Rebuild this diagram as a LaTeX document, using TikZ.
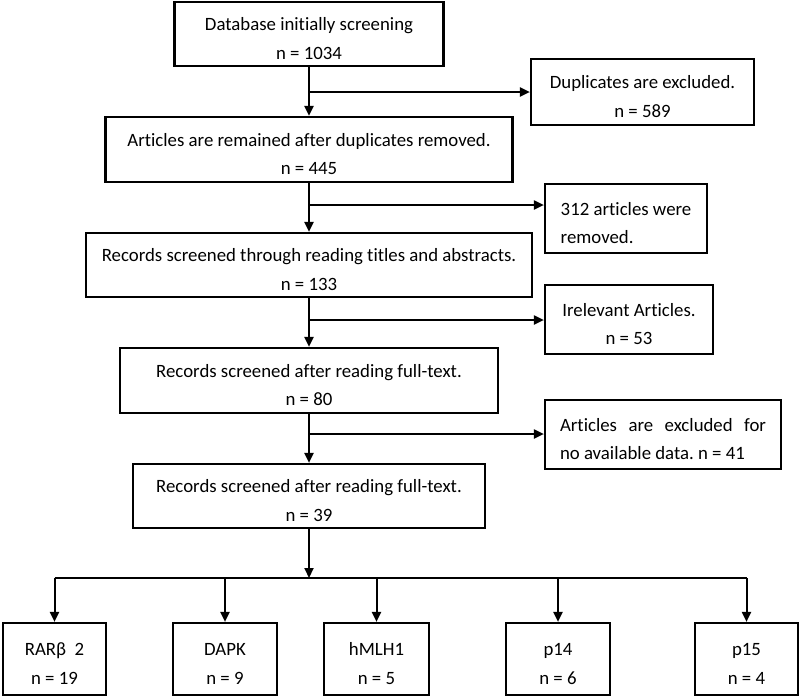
\documentclass[tikz,border=0pt]{standalone}
\usepackage{fontspec}
\setmainfont{Carlito}[Ligatures=NoCommon]
\frenchspacing
\usetikzlibrary{arrows.meta}
\newcommand\upstrut{\rule{0pt}{22pt}}
\begin{document}
\begin{tikzpicture}[x=1pt,y=-1pt,
 box/.style={draw, line width=2.2pt, align=center, inner sep=0pt, font=\fontsize{18.8}{28.5}\selectfont},
 arr/.style={line width=2pt, -{Triangle[length=10pt,width=9pt]}},
 ln/.style={line width=2pt}]
\useasboundingbox (0,0) rectangle (800,697);
% main column
\node[box, minimum width=269pt, minimum height=64pt] (b1) at (309,34) {\upstrut Database initially screening\\n = 1034};
\node[box, minimum width=407pt, minimum height=65pt] (b3) at (309,149.5) {\upstrut Articles are remained after duplicates removed.\\n = 445};
\node[box, minimum width=446pt, minimum height=64pt] (b5) at (309,265) {\upstrut Records screened through reading titles and abstracts.\\n = 133};
\node[box, minimum width=378pt, minimum height=65pt] (b7) at (309,380.5) {\upstrut Records screened after reading full-text.\\n = 80};
\node[box, minimum width=352pt, minimum height=64pt] (b9) at (309,496) {\upstrut Records screened after reading full-text.\\n = 39};
% side boxes
\node[box, minimum width=223pt, minimum height=66pt] (b2) at (642.5,92) {\upstrut Duplicates are excluded.\\n = 589};
\node[box, minimum width=162pt, minimum height=69pt, align=left] (b4) at (626,218.5) {\upstrut 312 articles were\\removed.};
\node[box, minimum width=168pt, minimum height=69pt] (b6) at (629,319.5) {\upstrut Irelevant Articles.\\n = 53};
\node[box, minimum width=236pt, minimum height=69pt, align=left] (b8) at (663,434.5) {\upstrut\hbox to 206pt{Articles\hfill are\hfill excluded\hfill for}\\no available data. n = 41};
% bottom boxes
\node[box, minimum width=103pt, minimum height=72pt] (r1) at (54.5,659) {\upstrut RARβ\ \ 2\\n = 19};
\node[box, minimum width=104pt, minimum height=72pt] (r2) at (225,659) {\upstrut DAPK\\n = 9};
\node[box, minimum width=105pt, minimum height=72pt] (r3) at (376.5,659) {\upstrut hMLH1\\n = 5};
\node[box, minimum width=104pt, minimum height=72pt] (r4) at (558,659) {\upstrut p14\\n = 6};
\node[box, minimum width=103pt, minimum height=72pt] (r5) at (746.5,659) {\upstrut p15\\n = 4};
% junctions
\coordinate (j1) at (309,92);
\coordinate (j2) at (309,205);
\coordinate (j3) at (309,320);
\coordinate (j4) at (309,434);
\coordinate (bus) at (309,578);
% connectors
\draw[arr] (b1.south) -- (b3.north);
\draw[arr] (b3.south) -- (b5.north);
\draw[arr] (b5.south) -- (b7.north);
\draw[arr] (b7.south) -- (b9.north);
\draw[arr] (j1) -- (j1 -| b2.west);
\draw[arr] (j2) -- (j2 -| b4.west);
\draw[arr] (j3) -- (j3 -| b6.west);
\draw[arr] (j4) -- (j4 -| b8.west);
\draw[arr] (b9.south) -- (bus);
\draw[ln] (bus -| r1.north) -- (bus -| r5.north);
\foreach \r in {r1,r2,r3,r4,r5} {\draw[arr] (bus -| \r.north) -- (\r.north);}
\end{tikzpicture}
\end{document}
